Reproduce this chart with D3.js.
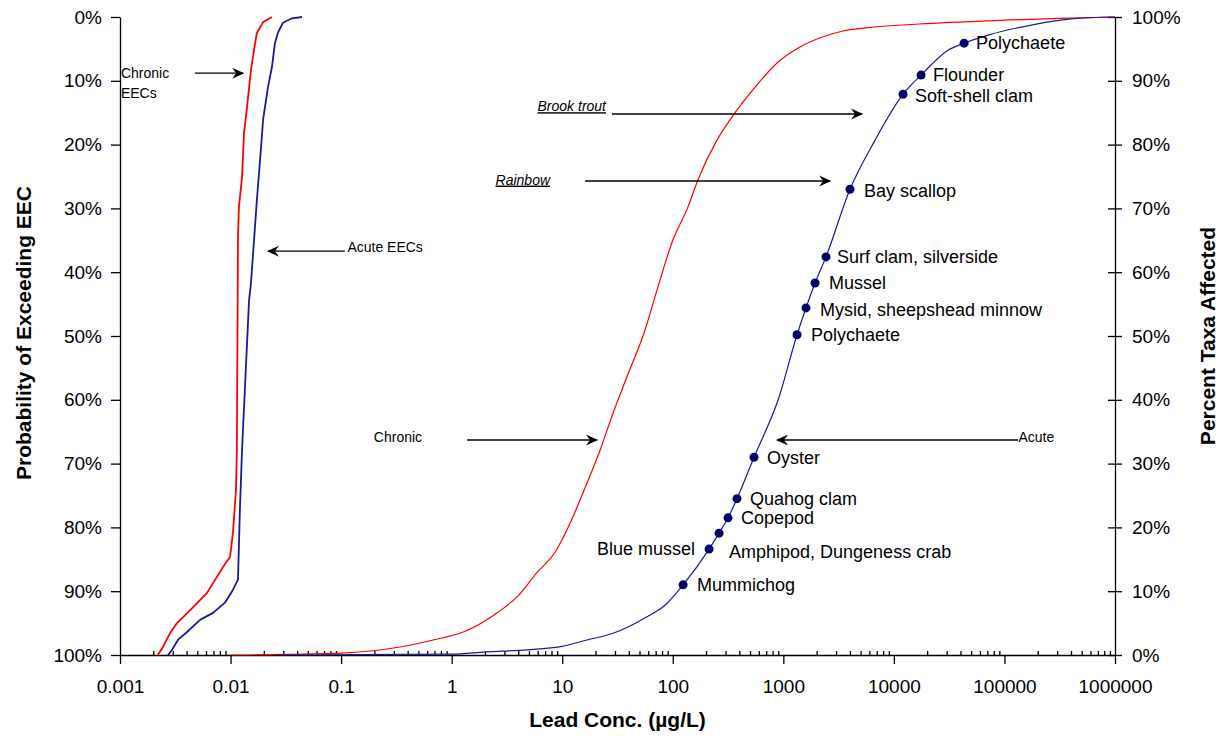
<!DOCTYPE html>
<html>
<head>
<meta charset="utf-8">
<script src="https://d3js.org/d3.v7.min.js"></script>
<style>
  body { margin: 0; background: #fff; }
  text { font-family: "Liberation Sans", Arial, sans-serif; fill: #000; }
</style>
</head>
<body>
<svg width="1222" height="740" id="chart"></svg>
<script>
// exposure curves (probability of exceeding, left axis)
var eecChronicConc = [0.0022, 0.00245, 0.00283, 0.00328, 0.0043, 0.0061, 0.00855, 0.0099, 0.0105, 0.0112, 0.0114, 0.0116, 0.01167, 0.0119, 0.0127, 0.01324, 0.0141, 0.0153, 0.0163, 0.0173, 0.0197, 0.0237];
var eecChronicProb = [100, 98.7, 96.6, 95, 93, 90.3, 86.2, 84.6, 80.9, 74.1, 67.9, 44.4, 34.5, 29.8, 25.1, 18.2, 14.1, 8.3, 5.2, 2.5, 0.8, 0];
var eecAcuteConc = [0.00272, 0.00295, 0.00335, 0.00404, 0.0053, 0.00694, 0.0089, 0.0105, 0.01167, 0.01217, 0.0127, 0.0147, 0.0153, 0.0163, 0.0173, 0.0188, 0.0197, 0.0218, 0.0237, 0.0252, 0.0269, 0.0298, 0.036, 0.0443];
var eecAcuteProb = [100, 99.2, 97.6, 96.4, 94.5, 93.4, 91.8, 89.8, 88.2, 76.8, 67.9, 44.4, 41.7, 35, 28.7, 20.8, 16.1, 11, 7.8, 4.1, 2.4, 0.9, 0.2, 0];

// species sensitivity curves (percent taxa affected, right axis)
var ssdChronicConc = [0.01, 0.1, 0.34, 0.68, 1.27, 2.57, 3.9, 5.9, 8.6, 11.8, 16.8, 22, 28.8, 38.5, 56, 72, 100, 137, 169, 251, 366, 532, 877, 1416, 2286, 3467, 5598, 16870, 99000, 318000, 1000000];
var ssdChronicPct = [0, 0.3, 1.25, 2.35, 3.6, 6.6, 9.1, 12.9, 16.1, 20.7, 27.0, 32.1, 37.9, 43.6, 50.9, 57.2, 65.0, 70.2, 74.5, 80.7, 85.0, 88.6, 92.8, 95.3, 96.9, 97.8, 98.3, 98.9, 99.5, 99.8, 100];
var ssdAcuteConc = [0.026, 1, 2.04, 4.8, 10.2, 16.8, 28.8, 58.5, 85, 124, 213, 262, 316, 381, 543, 914, 1330, 1603, 1936, 2432, 4009, 6760, 12100, 17620, 30900, 43150, 72600, 170600, 400000, 1000000];
var ssdAcutePct = [0, 0.15, 0.5, 0.8, 1.4, 2.35, 3.4, 6.0, 7.8, 11.0, 16.6, 19.1, 21.5, 24.5, 31.0, 40.4, 50.2, 54.4, 58.3, 62.4, 73.0, 80.7, 87.9, 90.9, 94.8, 95.9, 97.2, 98.7, 99.7, 100];

// acute taxa points
var taxaNames = ["Mummichog", "Blue mussel", "Amphipod, Dungeness crab", "Copepod", "Quahog clam", "Oyster", "Polychaete", "Mysid, sheepshead minnow", "Mussel", "Surf clam, silverside", "Bay scallop", "Soft-shell clam", "Flounder", "Polychaete"];
var taxaConc = [124, 213, 262, 316, 381, 543, 1330, 1603, 1936, 2432, 4009, 12100, 17620, 43150];
var taxaPct = [11.0, 16.6, 19.1, 21.5, 24.5, 31.0, 50.2, 54.4, 58.3, 62.4, 73.0, 87.9, 90.9, 95.9];

// tick labels
var xTickValues = [0.001, 0.01, 0.1, 1, 10, 100, 1000, 10000, 100000, 1000000];
var xTickLabels = ["0.001", "0.01", "0.1", "1", "10", "100", "1000", "10000", "100000", "1000000"];
var pctTicks = [0, 10, 20, 30, 40, 50, 60, 70, 80, 90, 100];

var svg = d3.select("#chart");
var plotLeft = 120, plotRight = 1115, plotTop = 17, plotBottom = 655;

var x = d3.scaleLog().domain([0.001, 1000000]).range([plotLeft, plotRight]);
var yProb = d3.scaleLinear().domain([0, 100]).range([plotTop, plotBottom]);
var yPct = d3.scaleLinear().domain([0, 100]).range([plotBottom, plotTop]);

// arrow head
svg.append("defs").append("marker")
  .attr("id", "arrow")
  .attr("viewBox", "-12 -6 14 12")
  .attr("refX", 0).attr("refY", 0)
  .attr("markerWidth", 14).attr("markerHeight", 12)
  .attr("markerUnits", "userSpaceOnUse")
  .attr("orient", "auto")
  .append("path")
  .attr("d", "M1,0 L-11,-5.5 L-7,0 L-11,5.5 Z")
  .attr("fill", "#000");

// bottom axis: major ticks down, minor ticks up
var minor = [];
for (var e = -3; e < 6; e++) {
  for (var m = 2; m <= 9; m++) minor.push(m * Math.pow(10, e));
}
var gx = svg.append("g").attr("transform", "translate(0," + plotBottom + ")");
gx.call(d3.axisBottom(x).tickValues(xTickValues)
  .tickFormat(function (d, i) { return xTickLabels[i]; })
  .tickSizeInner(9).tickSizeOuter(0).tickPadding(16));
gx.append("g").call(d3.axisBottom(x).tickValues(minor).tickFormat("").tickSizeInner(-4).tickSizeOuter(0))
  .select(".domain").remove();
gx.selectAll("text").style("font-size", "19px").style("font-family", "Liberation Sans, Arial");

// left axis
var gl = svg.append("g").attr("transform", "translate(" + plotLeft + ",0)");
gl.call(d3.axisLeft(yProb).tickValues(pctTicks)
  .tickFormat(function (d) { return d + "%"; })
  .tickSizeInner(9).tickSizeOuter(0).tickPadding(9));
gl.selectAll("text").style("font-size", "19px").style("font-family", "Liberation Sans, Arial");

// right axis, ticks crossing the line
var gr = svg.append("g").attr("transform", "translate(" + plotRight + ",0)");
gr.call(d3.axisRight(yPct).tickValues(pctTicks)
  .tickFormat(function (d) { return d + "%"; })
  .tickSizeInner(7).tickSizeOuter(0).tickPadding(10));
gr.selectAll(".tick line").attr("x1", -7);
gr.selectAll("text").style("font-size", "19px").style("font-family", "Liberation Sans, Arial");

svg.selectAll(".domain, .tick line").attr("stroke", "#000").attr("stroke-width", 1.3);

// axis titles
svg.append("text")
  .attr("x", (plotLeft + plotRight) / 2).attr("y", 727)
  .attr("text-anchor", "middle")
  .style("font-size", "21px").style("font-weight", "bold")
  .text("Lead Conc. (µg/L)");
svg.append("text")
  .attr("transform", "translate(31,333)rotate(-90)")
  .attr("text-anchor", "middle")
  .style("font-size", "21px").style("font-weight", "bold")
  .text("Probability of Exceeding EEC");
svg.append("text")
  .attr("transform", "translate(1215,336)rotate(-90)")
  .attr("text-anchor", "middle")
  .style("font-size", "21px").style("font-weight", "bold")
  .text("Percent Taxa Affected");

// curves
function drawCurve(conc, vals, yScale, color, width, curve) {
  var pts = conc.map(function (c, i) { return [c, vals[i]]; });
  svg.append("path")
    .datum(pts)
    .attr("fill", "none")
    .attr("stroke", color)
    .attr("stroke-width", width)
    .attr("stroke-linejoin", "round")
    .attr("d", d3.line().curve(curve)
      .x(function (d) { return x(d[0]); })
      .y(function (d) { return yScale(d[1]); }));
}
drawCurve(ssdChronicConc, ssdChronicPct, yPct, "#ff0000", 1.2, d3.curveMonotoneX);
drawCurve(ssdAcuteConc, ssdAcutePct, yPct, "#1a1a99", 1.2, d3.curveMonotoneX);
drawCurve(eecChronicConc, eecChronicProb, yProb, "#ff0000", 1.8, d3.curveLinear);
drawCurve(eecAcuteConc, eecAcuteProb, yProb, "#1a1a99", 1.8, d3.curveLinear);

// taxa points and labels
var labelOffsets = [[14, 0], [-14, 0], [10, 19], [13, 0], [13, 0], [13, 0], [14, 0], [14, 2], [14, 0], [11, 0], [14, 1], [12, 2], [12, 0], [12, 0]];
svg.append("g").selectAll("circle")
  .data(taxaConc)
  .enter().append("circle")
  .attr("cx", function (d) { return x(d); })
  .attr("cy", function (d, i) { return yPct(taxaPct[i]); })
  .attr("r", 4.5)
  .attr("fill", "#000066");
svg.append("g").selectAll("text")
  .data(taxaNames)
  .enter().append("text")
  .attr("x", function (d, i) { return x(taxaConc[i]) + labelOffsets[i][0]; })
  .attr("y", function (d, i) { return yPct(taxaPct[i]) + labelOffsets[i][1]; })
  .attr("dy", "0.35em")
  .attr("text-anchor", function (d, i) { return labelOffsets[i][0] < 0 ? "end" : "start"; })
  .style("font-size", "18px")
  .text(function (d) { return d; });

// annotations (arrows in data units)
var notes = [
  { text: ["Chronic", "EECs"], tx: 0.00102, ty: 8.8, anchor: "start", axis: "prob", x1: 0.00476, x2: 0.013, y: 8.8 },
  { text: ["Acute EECs"], tx: 0.114, ty: 36.1, anchor: "start", axis: "prob", x1: 0.108, x2: 0.0218, y: 36.7 },
  { text: ["Brook trout"], tx: 24.9, ty: 86.0, anchor: "end", axis: "pct", x1: 28.2, x2: 5150, y: 84.8, italic: true },
  { text: ["Rainbow"], tx: 7.76, ty: 74.5, anchor: "end", axis: "pct", x1: 16.1, x2: 2650, y: 74.3, italic: true },
  { text: ["Chronic"], tx: 0.54, ty: 34.2, anchor: "end", axis: "pct", x1: 1.38, x2: 20.6, y: 33.7 },
  { text: ["Acute"], tx: 134000, ty: 34.2, anchor: "start", axis: "pct", x1: 132800, x2: 877, y: 33.7 }
];
notes.forEach(function (n) {
  var ys = n.axis === "prob" ? yProb : yPct;
  svg.append("line")
    .attr("x1", x(n.x1)).attr("x2", x(n.x2))
    .attr("y1", ys(n.y)).attr("y2", ys(n.y))
    .attr("stroke", "#000").attr("stroke-width", 1.4)
    .attr("marker-end", "url(#arrow)");
  n.text.forEach(function (t, k) {
    svg.append("text")
      .attr("x", x(n.tx))
      .attr("y", ys(n.ty) + k * 20)
      .attr("dy", "0.35em")
      .attr("text-anchor", n.anchor)
      .style("font-size", "14px")
      .style("font-style", n.italic ? "italic" : "normal")
      .style("text-decoration", n.italic ? "underline" : "none")
      .text(t);
  });
});
</script>
</body>
</html>
